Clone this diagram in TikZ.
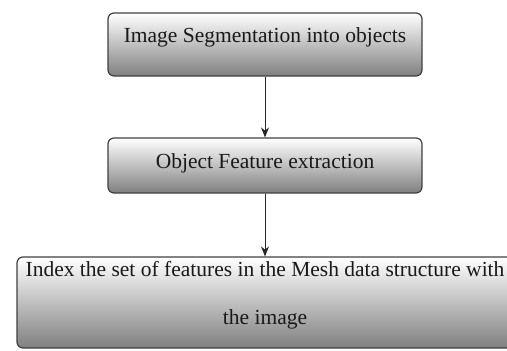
\documentclass[tikz,border=0pt]{standalone}
\usepackage{fontspec}
\setmainfont{Liberation Serif}
\usepackage{tikz}
\usetikzlibrary{positioning}
\usetikzlibrary{arrows.meta}

\tikzset{
  procbox/.style={draw=black!75, line width=1.2pt, rounded corners=6pt,
    top color=white, bottom color=black!50, align=center,
    font=\fontsize{21.5}{48}\selectfont, text=black!90, inner sep=0pt},
  flow/.style={-{Stealth[length=10pt,width=8pt]}, line width=1pt, draw=black!85}
}

\begin{document}
\begin{tikzpicture}[x=1pt,y=-1pt]
		\useasboundingbox (0,0) rectangle (507,351);
		\clip (0,0) rectangle (507,351);
		\node[procbox, minimum width=314pt, minimum height=63pt, text depth=18pt] (seg) at (265,44.5) {Image Segmentation into objects};
		\node[procbox, minimum width=314pt, minimum height=55pt, text depth=8pt] (feat) at (265,165.5) {Object Feature extraction};
		\node[procbox, minimum width=496pt, minimum height=91pt, text depth=19pt] (index) at (265,302.5) {Index the set of features in the Mesh data structure with\\the image};
		\draw[flow] (seg) -- (feat);
		\draw[flow] (feat) -- (index);
	\end{tikzpicture}
\end{document}
